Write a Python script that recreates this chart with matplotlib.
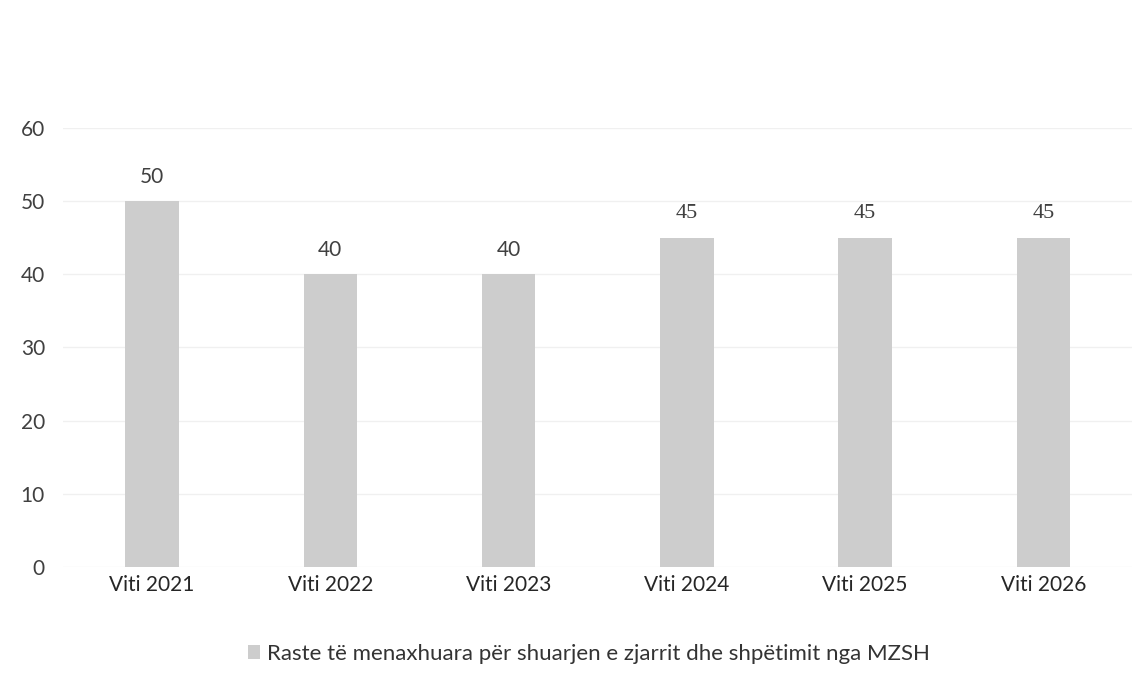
import matplotlib.pyplot as plt

# Datos
vitet = ["Viti 2021", "Viti 2022", "Viti 2023", "Viti 2024", "Viti 2025", "Viti 2026"]
raste = [50, 40, 40, 45, 45, 45]
seria = "Raste të menaxhuara për shuarjen e zjarrit dhe shpëtimit nga MZSH"

plt.rcParams["font.family"] = ["Lato", "DejaVu Sans"]

fig = plt.figure(figsize=(11.45, 6.79), dpi=100)
ax = fig.add_axes([0.055, 0.165, 0.934, 0.6465])

bars = ax.bar(vitet, raste, width=0.3, color="#cdcdcd", label=seria, zorder=2)

# Etiketat e vlerave
for i, (b, v) in enumerate(zip(bars, raste)):
    fam = "Liberation Serif" if i >= 3 else "Lato"
    ax.text(b.get_x() + b.get_width() / 2, v + 2.0, str(v), ha="center", va="bottom",
            fontsize=15 if i < 3 else 16, color="#404040", family=fam)

ax.set_ylim(0, 60)
ax.set_xlim(-0.5, 5.5)
ax.set_yticks(range(0, 61, 10))
ax.tick_params(axis="y", length=0, labelsize=15, labelcolor="#404040", pad=13)
ax.tick_params(axis="x", length=0, labelsize=15, labelcolor="#262626", pad=6)
ax.yaxis.grid(True, color="#f0f0f0", linewidth=1, zorder=0)
for s in ax.spines.values():
    s.set_visible(False)

ax.legend(loc="upper center", bbox_to_anchor=(0.492, -0.13), frameon=False,
          fontsize=16, handlelength=0.55, handleheight=0.55, handletextpad=0.3,
          labelcolor="#333333")

fig.savefig("out.png", dpi=100)
